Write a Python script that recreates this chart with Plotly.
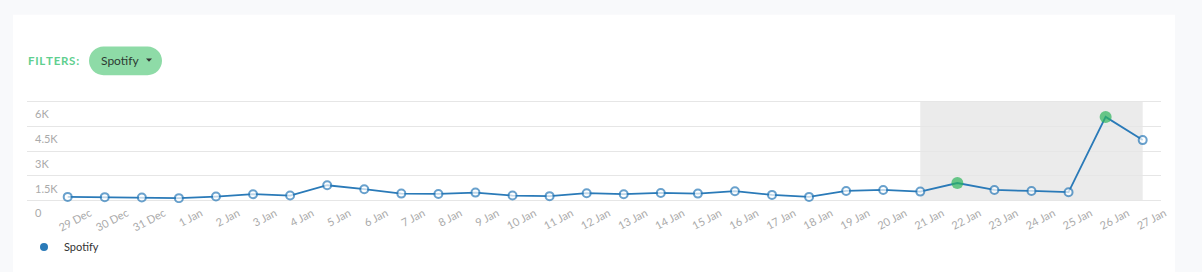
import plotly.graph_objects as go

# ---- data ----
dates = ["29 Dec", "30 Dec", "31 Dec", "1 Jan", "2 Jan", "3 Jan", "4 Jan", "5 Jan",
         "6 Jan", "7 Jan", "8 Jan", "9 Jan", "10 Jan", "11 Jan", "12 Jan", "13 Jan",
         "14 Jan", "15 Jan", "16 Jan", "17 Jan", "18 Jan", "19 Jan", "20 Jan", "21 Jan",
         "22 Jan", "23 Jan", "24 Jan", "25 Jan", "26 Jan", "27 Jan"]
spotify = [220, 205, 180, 145, 240, 385, 300, 925, 685, 420, 400, 480, 300, 265, 445,
           385, 460, 420, 565, 340, 220, 580, 640, 540, 1060, 640, 580, 505, 5065, 3660]
highlighted = ["22 Jan", "26 Jan"]
band_start, band_end = "21 Jan", "27 Jan"
y_tickvals = [0, 1500, 3000, 4500, 6000]
y_ticktext = ["0", "1.5K", "3K", "4.5K", "6K"]
series_name = "Spotify"

BLUE = "#2a7ab8"
GREEN = "#2db55d"
FONT = "Lato"

W, H = 1202, 272
L, R, T, B = 27, 1161, 99, 204  # plot area in pixels (105 px)
Y_LO, Y_HI = -150, 6150          # 60 units per px -> 6000 spans 100 px


def px(x):
    return (x - L) / (R - L)


def py(y):
    return (B - y) / (B - T)


xs = list(range(len(dates)))
mcolor = [GREEN if d in highlighted else "white" for d in dates]
msize = [12 if d in highlighted else 8 for d in dates]
mline = [0 if d in highlighted else 2 for d in dates]

fig = go.Figure()
fig.add_trace(go.Scatter(
    x=xs, y=spotify, mode="lines+markers", name=series_name, showlegend=False,
    line=dict(color=BLUE, width=1.8),
    marker=dict(color=mcolor, size=msize, line=dict(color=BLUE, width=mline)),
    hoverinfo="skip",
))
# legend entry (dot only), also keeps the label axis alive
fig.add_trace(go.Scatter(
    x=[None], y=[None], mode="markers", name=series_name, yaxis="y2",
    marker=dict(color=BLUE, size=8), showlegend=True,
))

shapes = []
# white card
shapes.append(dict(type="rect", xref="paper", yref="paper", layer="below",
                   x0=px(13), x1=px(1175), y0=py(280), y1=py(14),
                   fillcolor="white", line=dict(width=0)))
# grey highlight band
shapes.append(dict(type="rect", xref="x", yref="y", layer="below",
                   x0=dates.index(band_start), x1=dates.index(band_end),
                   y0=0, y1=y_tickvals[-1],
                   fillcolor="#ebebeb", line=dict(width=0)))


# filter pill
def pill(x0, y0, x1, y1):
    r = (y1 - y0) / 2
    k = 0.5523 * r
    path = f"M {px(x0 + r)},{py(y0)} L {px(x1 - r)},{py(y0)} "
    path += f"C {px(x1 - r + k)},{py(y0)} {px(x1)},{py(y0 + r - k)} {px(x1)},{py(y0 + r)} "
    path += f"C {px(x1)},{py(y1 - r + k)} {px(x1 - r + k)},{py(y1)} {px(x1 - r)},{py(y1)} "
    path += f"L {px(x0 + r)},{py(y1)} "
    path += f"C {px(x0 + r - k)},{py(y1)} {px(x0)},{py(y1 - r + k)} {px(x0)},{py(y1 - r)} "
    path += f"C {px(x0)},{py(y0 + r - k)} {px(x0 + r - k)},{py(y0)} {px(x0 + r)},{py(y0)} Z"
    return path


shapes.append(dict(type="path", xref="paper", yref="paper", layer="above",
                   path=pill(89, 46, 162, 75), fillcolor="#8edba7", line=dict(width=0)))
shapes.append(dict(type="path", xref="paper", yref="paper", layer="above",
                   path=f"M {px(146)},{py(58)} L {px(152)},{py(58)} L {px(149)},{py(61.5)} Z",
                   fillcolor="#333333", line=dict(width=0)))

annotations = [
    dict(text="<b>F I L T E R S :</b>".replace(" ", "&#8202;"), xref="paper", yref="paper",
         x=px(26), y=py(60), xanchor="left", yanchor="middle", showarrow=False,
         font=dict(family=FONT, size=11.5, color="#5fcf8f")),
    dict(text="Spotify", xref="paper", yref="paper", x=px(99), y=py(60.5),
         xanchor="left", yanchor="middle", showarrow=False,
         font=dict(family=FONT, size=12, color="#2d3a33")),
]

fig.update_layout(
    width=W, height=H,
    margin=dict(l=L, r=W - R, t=T, b=H - B, pad=0),
    paper_bgcolor="#f8f9fb",
    plot_bgcolor="rgba(0,0,0,0)",
    shapes=shapes,
    annotations=annotations,
    showlegend=True,
    legend=dict(x=px(24), y=py(247), xanchor="left", yanchor="middle",
                orientation="h", bgcolor="rgba(0,0,0,0)",
                font=dict(family=FONT, size=11, color="#333333"),
                itemwidth=30),
    font=dict(family=FONT),
    xaxis=dict(
        range=[-1.098, len(dates) - 1 + 0.494],
        tickvals=xs, ticktext=dates, tickangle=-28,
        showgrid=False, zeroline=False, showline=False, ticks="",
        tickfont=dict(family=FONT, size=11, color="#aaaaaa"),
        ticklabelshift=22, ticklabelstandoff=1,
        fixedrange=True,
    ),
    yaxis=dict(
        range=[Y_LO, Y_HI], tickvals=y_tickvals,
        showgrid=True, gridcolor="#e6e6e6", gridwidth=1,
        zeroline=False, showline=False, ticks="", showticklabels=False,
        fixedrange=True,
    ),
    yaxis2=dict(
        overlaying="y", side="right", anchor="free", position=px(32),
        range=[Y_LO, Y_HI], tickvals=y_tickvals, ticktext=y_ticktext,
        showgrid=False, zeroline=False, showline=False, ticks="",
        ticklabelshift=13, ticklabelstandoff=2,
        tickfont=dict(family=FONT, size=11, color="#aaaaaa"),
        fixedrange=True,
    ),
)

fig.write_html("out.html")
